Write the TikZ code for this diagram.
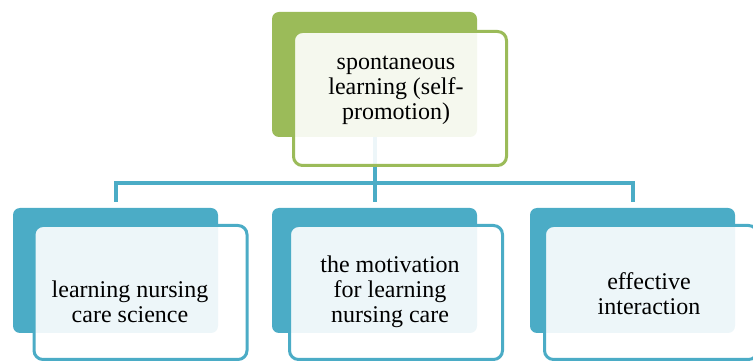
\documentclass[tikz,border=0pt]{standalone}
\usepackage{fontspec}
\setmainfont{Liberation Serif}
\definecolor{olivegreen}{HTML}{9BBB59}
\definecolor{aquablue}{HTML}{4BACC6}
\begin{document}
\begin{tikzpicture}[x=1pt,y=-1pt]

    \tikzset{
      backbox/.style={
        rectangle,
        rounded corners=7pt,
        minimum width=205pt,
        minimum height=125pt,
        inner sep=0pt,
      },
      frontbox/.style={
        rectangle,
        rounded corners=9pt,
        line width=3pt,
        fill=white,
        fill opacity=0.9,
        minimum width=213pt,
        minimum height=134pt,
        inner sep=0pt,
      },
      boxtext/.style={
        align=center,
        font=\fontsize{24}{25}\selectfont,
        inner sep=0pt,
      },
      link/.style={
        color={aquablue},
        line width=4pt,
      },
    }
    \useasboundingbox (0,0) rectangle (753,363);

	\node[backbox,fill={olivegreen}] (topback) at (374.5,74.5) {};
	\node[backbox,fill={aquablue}] (leftback) at (115.5,270.5) {};
	\node[backbox,fill={aquablue}] (midback) at (374.5,270.5) {};
	\node[backbox,fill={aquablue}] (rightback) at (632.5,270.5) {};

	\coordinate (bus) at (374.5,183);
	\draw[link] (topback.south) -- (bus);
	\draw[link,shorten >=6pt] (bus) -| (leftback.north);
	\draw[link,shorten >=6pt] (bus) -- (midback.north);
	\draw[link,shorten >=6pt] (bus) -| (rightback.north);

	\node[frontbox,draw={olivegreen}] (topfront) at (400,98.5) {};
	\node[frontbox,draw={aquablue}] (leftfront) at (140.5,292.5) {};
	\node[frontbox,draw={aquablue}] (midfront) at (396,292.5) {};
	\node[frontbox,draw={aquablue}] (rightfront) at (651,292.5) {};

	\node[boxtext] (toptext) at (396,90) {spontaneous\\learning (self-\\promotion)};
	\node[boxtext] (lefttext) at (130,302) {learning nursing\\care science};
	\node[boxtext] (midtext) at (390,292) {the motivation\\for learning\\nursing care};
	\node[boxtext] (righttext) at (649,294) {effective\\interaction};

\end{tikzpicture}
\end{document}
